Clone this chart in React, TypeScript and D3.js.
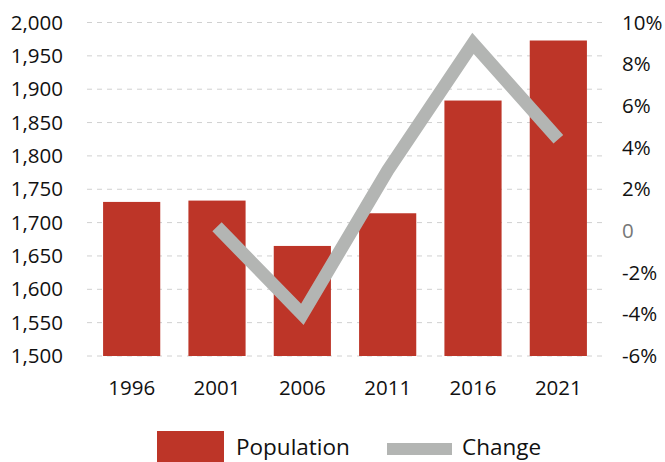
import React, { useRef, useEffect } from 'react';
import * as d3 from 'd3';

const years = ['1996', '2001', '2006', '2011', '2016', '2021'];
const population = [1731, 1733, 1665, 1714, 1883, 1973];
const changeYears = ['2001', '2006', '2011', '2016', '2021'];
const change = [0.2, -4.0, 2.9, 9.0, 4.4];
const leftTicks = [1500, 1550, 1600, 1650, 1700, 1750, 1800, 1850, 1900, 1950, 2000];
const rightTicks = [-6, -4, -2, 0, 2, 4, 6, 8, 10];

const BAR = '#bd3528';
const LINE = '#b3b5b3';
const FONT = '"Open Sans", sans-serif';
const TICK_SIZE = '20.5px';

const App = () => {
  const chartRef = useRef<SVGSVGElement>(null);

  useEffect(() => {
    if (!chartRef.current) return;
    const width = 665;
    const height = 462;
    const margin = { top: 22.5, right: 64, bottom: 106, left: 89 };

    const svg = d3.select(chartRef.current)
      .attr('width', width)
      .attr('height', height)
      .html('');

    const x = d3.scaleBand()
      .domain(years)
      .range([margin.left, width - margin.right])
      .paddingInner(0.33)
      .paddingOuter(0.165);

    const y = d3.scaleLinear()
      .domain([1500, 2000])
      .range([height - margin.bottom, margin.top]);

    const y2 = d3.scaleLinear()
      .domain([-6, 10])
      .range([height - margin.bottom, margin.top]);

    // gridlines
    svg.append('g')
      .selectAll('line')
      .data(leftTicks)
      .enter().append('line')
      .attr('x1', margin.left - 2)
      .attr('x2', width - margin.right + 2)
      .attr('y1', d => y(d))
      .attr('y2', d => y(d))
      .attr('stroke', '#d0d0d0')
      .attr('stroke-width', 1)
      .attr('stroke-dasharray', '5,5');

    // bars
    svg.append('g')
      .selectAll('rect')
      .data(years)
      .enter().append('rect')
      .attr('x', d => x(d) as number)
      .attr('width', x.bandwidth())
      .attr('y', (_, i) => y(population[i]))
      .attr('height', (_, i) => y(1500) - y(population[i]))
      .attr('fill', BAR);

    // change line
    const line = d3.line<number>()
      .x((_, i) => (x(changeYears[i]) as number) + x.bandwidth() / 2)
      .y(d => y2(d));

    svg.append('path')
      .datum(change)
      .attr('d', line)
      .attr('fill', 'none')
      .attr('stroke', LINE)
      .attr('stroke-width', 13)
      .attr('stroke-linejoin', 'miter');

    // left axis labels
    svg.append('g')
      .selectAll('text')
      .data(leftTicks)
      .enter().append('text')
      .attr('x', 63)
      .attr('y', d => y(d))
      .attr('dy', '0.35em')
      .attr('text-anchor', 'end')
      .attr('font-family', FONT)
      .attr('font-size', TICK_SIZE)
      .attr('fill', '#111')
      .text(d => d3.format(',')(d));

    // right axis labels
    svg.append('g')
      .selectAll('text')
      .data(rightTicks)
      .enter().append('text')
      .attr('x', 622)
      .attr('y', d => y2(d))
      .attr('dy', '0.35em')
      .attr('text-anchor', 'start')
      .attr('font-family', FONT)
      .attr('font-size', TICK_SIZE)
      .attr('fill', d => (d === 0 ? '#777' : '#111'))
      .text(d => (d === 0 ? '0' : `${d}%`));

    // x labels
    svg.append('g')
      .selectAll('text')
      .data(years)
      .enter().append('text')
      .attr('x', d => (x(d) as number) + x.bandwidth() / 2)
      .attr('y', 395)
      .attr('text-anchor', 'middle')
      .attr('font-family', FONT)
      .attr('font-size', TICK_SIZE)
      .attr('fill', '#111')
      .text(d => d);

    // legend
    const legend = svg.append('g');
    legend.append('rect')
      .attr('x', 157)
      .attr('y', 431)
      .attr('width', 67)
      .attr('height', 31)
      .attr('fill', BAR);
    legend.append('text')
      .attr('x', 236)
      .attr('y', 455)
      .attr('font-family', FONT)
      .attr('font-size', '22.5px')
      .attr('fill', '#111')
      .text('Population');
    legend.append('line')
      .attr('x1', 387)
      .attr('x2', 452)
      .attr('y1', 449)
      .attr('y2', 449)
      .attr('stroke', LINE)
      .attr('stroke-width', 12);
    legend.append('text')
      .attr('x', 462)
      .attr('y', 455)
      .attr('font-family', FONT)
      .attr('font-size', '22.5px')
      .attr('fill', '#111')
      .text('Change');
  }, []);

  return (
    <div style={{ position: 'absolute', left: 0, top: 0 }}>
      <svg ref={chartRef} style={{ display: 'block' }}></svg>
    </div>
  );
};

export default App;
